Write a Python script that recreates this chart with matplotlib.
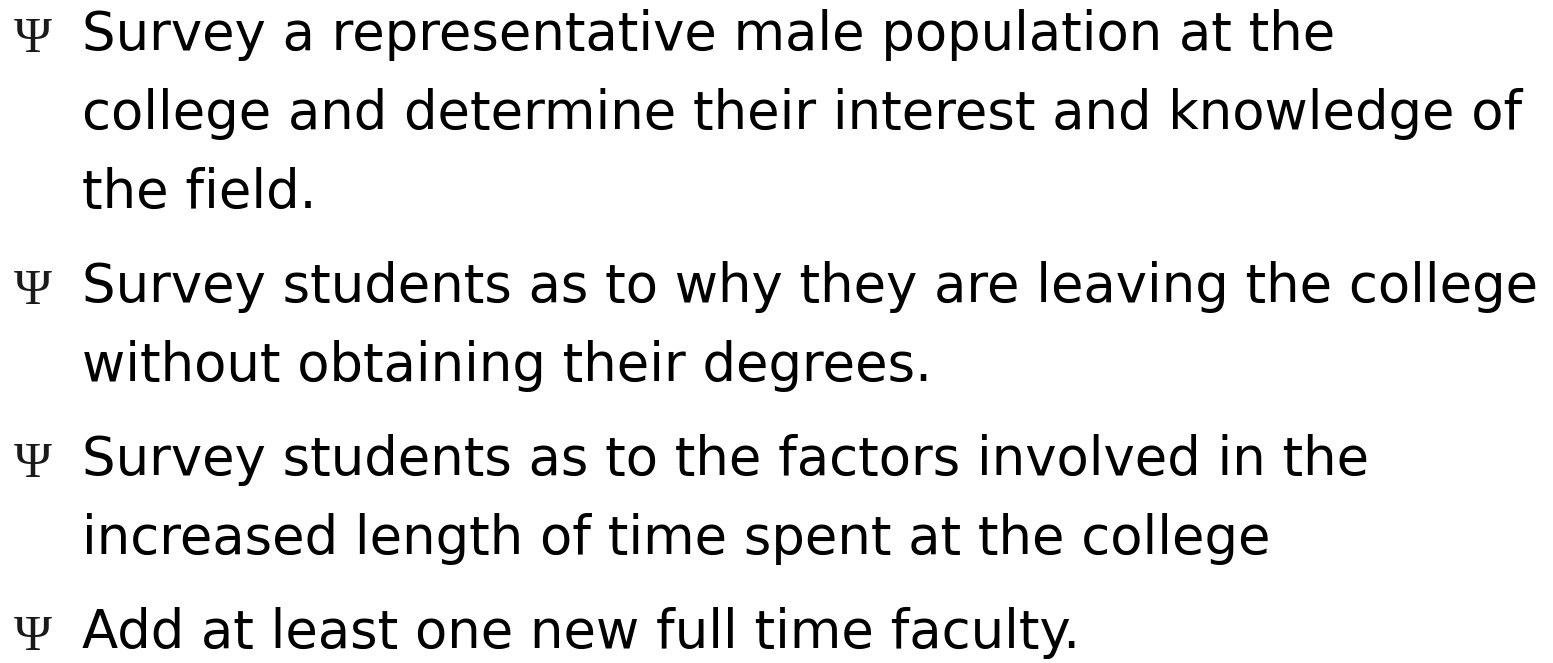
import matplotlib
matplotlib.use("Agg")
import matplotlib.pyplot as plt

# bullet items, already wrapped the way the slide wraps them
bullets = [
    ["Survey a representative male population at the",
     "college and determine their interest and knowledge of",
     "the field."],
    ["Survey students as to why they are leaving the college",
     "without obtaining their degrees."],
    ["Survey students as to the factors involved in the",
     "increased length of time spent at the college"],
    ["Add at least one new full time faculty."],
]
bullet_char = "\u03a8"

W, H = 1553, 663
fig = plt.figure(figsize=(W / 100, H / 100), dpi=100)
fig.patch.set_facecolor("white")

# pixel coords, y measured from top
first_baseline = 50
line_pitch = 79
para_extra = 15
text_x = 82
bullet_x = 33

y = first_baseline
for item in bullets:
    fig.text(bullet_x / W, 1 - (y + 2) / H, bullet_char, ha="center", va="baseline",
             fontsize=37, family="Liberation Serif", color="#1a1a1a")
    for line in item:
        fig.text(text_x / W, 1 - y / H, line, ha="left", va="baseline",
                 fontsize=38.1, family="DejaVu Sans", color="black")
        y += line_pitch
    y += para_extra

fig.savefig("out.png", dpi=100)
